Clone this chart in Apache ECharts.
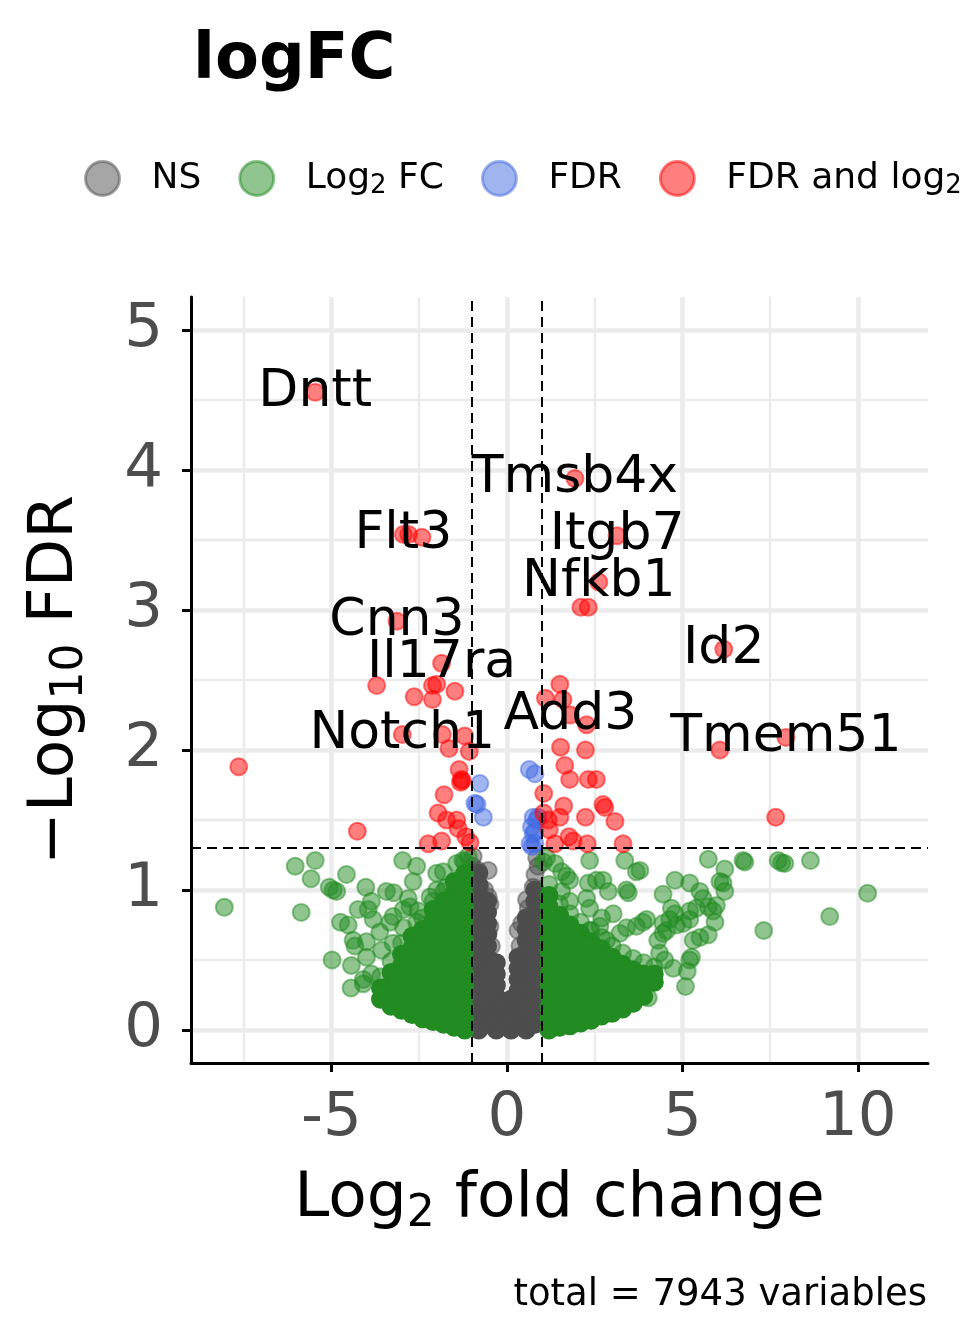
<!DOCTYPE html>
<html>
<head>
<meta charset="utf-8">
<script src="https://cdn.jsdelivr.net/npm/echarts@6/dist/echarts.min.js"></script>
<style>
html,body{margin:0;padding:0;background:#fff;}
#chart{width:960px;height:1344px;}
</style>
</head>
<body>
<div id="chart"></div>
<script>
// ---------- data ----------
const xTicks = [-5, 0, 5, 10];
const yTicks = [0, 1, 2, 3, 4, 5];
const xMinorGrid = [-7.5, -2.5, 2.5, 7.5];
const yMinorGrid = [0.5, 1.5, 2.5, 3.5, 4.5];
const fcCutoff = 1;
const fdrCutoff = 1.30103; // -log10(0.05)

// NS (grey) points: dense (heavily overlapping) columns [x, [y...]] and scattered points
const nsDenseCols = [
  [-0.8, [0,0.08,0.16,0.24,0.32,0.4,0.48,0.56,0.64,0.72,0.8,0.88,0.96,1.04,1.12]],
  [-0.55,[0.04,0.12,0.2,0.28,0.36,0.44,0.52,0.6,0.68,0.76,0.84,0.92]],
  [-0.3, [0,0.08,0.16,0.24,0.32,0.4,0.48]],
  [-0.08,[0.04,0.12,0.2]],
  [0.12, [0,0.08,0.16,0.22]],
  [0.32, [0.04,0.12,0.2,0.28,0.36,0.44,0.52]],
  [0.55, [0,0.08,0.16,0.24,0.32,0.4,0.48,0.56,0.64,0.72,0.8]],
  [0.8,  [0.04,0.12,0.2,0.28,0.36,0.44,0.52,0.6,0.68,0.76,0.84,0.92,1.0]]
];
const nsPoints = [
  [-0.96,1.24],[-0.98,1.17],[-0.82,1.14],[-0.53,1.14],[-0.77,1.02],[-0.63,1.0],[-0.53,0.95],
  [-0.48,0.90],[-0.58,0.83],[-0.48,0.74],[-0.53,0.69],[-0.44,0.60],
  [0.85,1.23],[0.89,1.17],[0.80,1.11],[0.75,1.02],[0.56,0.93],[0.61,0.87],[0.42,0.76],
  [0.32,0.71],[0.37,0.60]
];

// Log2 FC (green) points
const fcDenseLeftCols = [
  [-1.2,[0,0.08,0.16,0.24,0.32,0.4,0.48,0.56,0.64,0.72,0.8,0.88,0.96,1.04,1.12]],
  [-1.5,[0.02,0.1,0.18,0.26,0.34,0.42,0.5,0.58,0.66,0.74,0.82,0.9,0.98,1.06]],
  [-1.8,[0.04,0.12,0.2,0.28,0.36,0.44,0.52,0.6,0.68,0.76,0.84,0.92]],
  [-2.1,[0.06,0.14,0.22,0.3,0.38,0.46,0.54,0.62,0.7,0.78,0.86]],
  [-2.4,[0.08,0.16,0.24,0.32,0.4,0.48,0.56,0.64,0.72]],
  [-2.7,[0.11,0.19,0.27,0.35,0.43,0.51,0.59,0.67]],
  [-3.0,[0.14,0.22,0.3,0.38,0.46,0.54]],
  [-3.3,[0.17,0.25,0.33,0.41]],
  [-3.6,[0.22,0.3]]
];
const fcDenseRightCols = [
  [1.2,[0,0.08,0.16,0.24,0.32,0.4,0.48,0.56,0.64,0.72,0.8,0.88,0.96]],
  [1.5,[0.02,0.1,0.18,0.26,0.34,0.42,0.5,0.58,0.66,0.74,0.82]],
  [1.8,[0.03,0.11,0.19,0.27,0.35,0.43,0.51,0.59,0.67,0.75]],
  [2.1,[0.05,0.13,0.21,0.29,0.37,0.45,0.53,0.61,0.69]],
  [2.4,[0.07,0.15,0.23,0.31,0.39,0.47,0.55,0.63]],
  [2.7,[0.1,0.18,0.26,0.34,0.42,0.5,0.58]],
  [3.0,[0.12,0.2,0.28,0.36,0.44,0.52]],
  [3.3,[0.15,0.23,0.31,0.39,0.47]],
  [3.6,[0.19,0.27,0.35,0.43]],
  [3.9,[0.24,0.32,0.4]],
  [4.2,[0.34,0.4]]
];
const fcPointsLeft = [
  [-8.05,0.876],[-6.03,1.17],[-5.46,1.21],[-5.58,1.08],[-5.86,0.84],[-5.06,1.02],[-4.85,0.99],
  [-4.95,1.0],[-4.57,1.11],[-4.02,1.02],[-4.24,0.86],[-4.74,0.77],[-4.52,0.75],[-4.38,0.64],
  [-4.33,0.60],[-4.00,0.63],[-4.98,0.50],[-4.43,0.46],[-4.44,0.30],[-4.09,0.33],[-3.86,0.92],
  [-3.95,0.86],[-3.81,0.79],[-3.43,0.99],[-3.22,0.98],[-2.97,1.21],[-2.57,1.17],[-2.67,1.06],
  [-2.81,0.94],[-3.62,0.70],[-3.33,0.77],[-3.24,0.81],[-2.95,0.86],[-2.76,0.88],[-2.53,0.85],
  [-2.57,0.77],[-3.57,0.57],[-3.24,0.62],[-2.95,0.73],[-2.00,1.12],[-1.81,1.13],[-1.43,1.19],
  [-1.25,1.21],[-1.10,1.24],[-2.19,0.95],[-2.00,1.00],[-1.72,1.02],[-3.86,0.40],[-4.09,0.36],
  [-4.0,0.52],[-3.6,0.38],[-3.3,0.49],[-2.4,0.8],[-2.1,0.92],[-1.8,0.99],[-1.2,1.2],[-3.0,0.62]
];
const fcPointsRight = [
  [5.74,1.22],[6.21,1.15],[6.73,1.21],[6.78,1.20],[7.73,1.21],[7.92,1.19],[7.83,1.195],
  [8.65,1.21],[10.28,0.976],[9.20,0.81],[7.32,0.71],[4.79,1.07],[5.21,1.05],[4.45,0.97],
  [4.69,0.87],[5.50,0.99],[5.59,0.94],[6.07,1.06],[6.16,1.05],[6.21,0.99],[5.97,0.89],
  [5.88,0.85],[5.93,0.77],[5.74,0.68],[5.50,0.66],[5.31,0.64],[5.21,0.79],[5.02,0.76],
  [4.83,0.75],[5.26,0.52],[5.21,0.50],[4.74,0.44],[5.14,0.42],[5.09,0.31],[4.03,0.23],
  [4.45,0.69],[4.55,0.71],[4.30,0.64],[4.64,0.79],[4.45,0.76],[4.79,0.83],[5.21,0.85],
  [5.40,0.87],[5.74,0.88],[3.98,0.79],[3.88,0.77],[3.69,0.74],[3.41,0.73],[3.22,0.69],
  [2.84,0.64],[2.65,0.74],[2.36,0.71],[3.03,0.83],[2.70,0.80],[2.36,1.21],[3.36,1.21],
  [3.69,1.13],[3.41,1.00],[3.46,0.98],[2.32,1.05],[2.55,1.07],[2.74,1.07],[2.89,0.99],
  [2.36,0.87],[2.27,0.94],[1.79,1.07],[1.56,0.99],[1.79,0.92],[1.37,1.19],[1.56,1.13],
  [1.70,1.10],[1.13,1.23],[1.04,1.20],[3.79,1.14],[4.35,0.55],[4.5,0.5],
  [1.2,1.04],[1.5,0.9],[1.8,0.83],[2.1,0.77],[2.4,0.71],[2.7,0.66],[3.0,0.6],[3.3,0.55],
  [3.6,0.51],[3.9,0.48],[4.2,0.45]
];

// FDR (blue) points
const fdrPoints = [
  [0.64,1.86],[0.80,1.83],[-0.77,1.76],[-0.91,1.62],[-0.85,1.61],[-0.67,1.52],[0.75,1.52],
  [0.89,1.52],[0.75,1.40],[0.80,1.42],[0.80,1.33],[0.66,1.33],[0.72,1.31],[0.85,1.50],[0.70,1.45]
];

// FDR and log2 FC (red) points
const bothPoints = [
  [-5.46,4.555],[-2.95,3.54],[-2.8,3.54],[-2.42,3.52],[1.94,3.94],[3.14,3.53],[2.62,3.20],
  [2.11,3.02],[2.32,3.02],[6.18,2.72],[1.51,2.47],[1.10,2.37],[1.60,2.36],[1.81,2.25],
  [2.27,2.18],[1.53,2.02],[2.24,2.00],[1.65,1.89],[1.79,1.79],[2.32,1.79],[2.55,1.79],
  [1.05,1.69],[1.62,1.60],[2.24,1.52],[2.74,1.61],[2.79,1.59],[3.08,1.49],[1.51,1.52],
  [1.18,1.50],[1.21,1.43],[1.05,1.55],[1.77,1.38],[1.89,1.35],[1.37,1.33],[2.29,1.33],
  [3.31,1.33],[6.07,2.00],[7.95,2.09],[7.66,1.52],
  [-3.13,2.92],[-1.86,2.62],[-3.71,2.46],[-2.12,2.46],[-2.00,2.47],[-2.64,2.38],[-2.12,2.36],
  [-1.48,2.42],[-2.98,2.11],[-1.84,2.11],[-1.20,2.10],[-1.65,2.01],[-1.07,1.99],[-7.64,1.88],
  [-1.36,1.86],[-1.30,1.79],[-1.27,1.78],[-1.32,1.77],[-1.79,1.68],[-1.96,1.55],[-1.72,1.50],
  [-1.43,1.50],[-1.39,1.44],[-4.26,1.42],[-1.17,1.38],[-2.24,1.33],[-1.86,1.35],[-1.05,1.34]
];

// labelled genes [name, log2FC, -log10 FDR]
const labelGenes = [
  ['Dntt',-5.46,4.555],['Tmsb4x',1.94,3.94],['Flt3',-2.95,3.54],['Itgb7',3.14,3.53],
  ['Nfkb1',2.62,3.20],['Cnn3',-3.13,2.92],['Il17ra',-1.86,2.62],['Id2',6.18,2.72],
  ['Add3',1.81,2.25],['Notch1',-2.98,2.11],['Tmem51',7.95,2.09]
];

const totalText = 'total = 7943 variables';

// ---------- build ----------
function flattenCols(cols){ const out=[]; cols.forEach(c=>c[1].forEach(y=>out.push([c[0],y]))); return out; }
const nsCore = flattenCols(nsDenseCols);
const fcCore = flattenCols(fcDenseLeftCols).concat(flattenCols(fcDenseRightCols));
const fcData = fcPointsLeft.concat(fcPointsRight);

const FONT = 'DejaVu Sans';
const SYM = 17;
function pointSeries(name, data, rgb, alpha, z){
  return {
    name, type:'scatter', data, symbol:'circle', symbolSize:SYM, z,
    itemStyle:{color:'rgba('+rgb+','+alpha+')', borderColor:'rgba('+rgb+','+alpha+')', borderWidth:2, opacity:1},
    emphasis:{disabled:true}, silent:true
  };
}
// heavily overplotted cores: thousands of overlapping points read as a solid mass
function coreSeries(name, data, rgb, z){
  return {
    name, type:'scatter', data, symbol:'circle', symbolSize:19, z,
    itemStyle:{color:'rgb('+rgb+')', borderWidth:0, opacity:1},
    emphasis:{disabled:true}, silent:true
  };
}

const legendNames = {
  'NS':'{sp|}{a|NS}',
  'Log2 FC':'{sp|}{a|Log}{s|2}{a| FC}',
  'FDR':'{sp|}{a|FDR}',
  'FDR and log2 FC':'{sp|}{a|FDR and log}{s|2}{a| FC}'
};

const chart = echarts.init(document.getElementById('chart'), null, {renderer:'canvas'});
const option = {
  animation:false,
  backgroundColor:'#ffffff',
  textStyle:{fontFamily:FONT},
  title:{
    text:'logFC', left:188, top:24,
    textStyle:{fontFamily:FONT, fontSize:64, fontWeight:'bold', color:'#000'}
  },
  legend:{
    data:['NS','Log2 FC','FDR','FDR and log2 FC'],
    left:84, top:160, padding:0, width:3000,
    itemWidth:34, itemHeight:34, itemGap:37, icon:'circle',
    itemStyle:{borderWidth:3, opacity:1},
    formatter:n=>legendNames[n],
    textStyle:{fontFamily:FONT, fontSize:36, color:'#000',
      rich:{
        sp:{width:27},
        a:{fontFamily:FONT, fontSize:36, color:'#000'},
        s:{fontFamily:FONT, fontSize:26, color:'#000', padding:[16,0,0,0]}
      }}
  },
  grid:{left:191, right:32, top:297, bottom:281, containLabel:false},
  xAxis:{
    type:'value', min:-9, max:12,
    name:'{a|Log}{s|2}{a| fold change}', nameLocation:'middle', nameGap:100,
    nameTextStyle:{rich:{
      a:{fontFamily:FONT, fontSize:63, color:'#000'},
      s:{fontFamily:FONT, fontSize:44, color:'#000', padding:[30,0,0,0]}
    }},
    axisLine:{show:true, onZero:false, lineStyle:{color:'#000', width:3}},
    axisTick:{show:true, customValues:xTicks, length:9, lineStyle:{color:'#000', width:3}},
    axisLabel:{customValues:xTicks, margin:26, fontFamily:FONT, fontSize:61, color:'#4D4D4D'},
    splitLine:{show:false}
  },
  yAxis:{
    type:'value', min:-0.236, max:5.236,
    name:'{a|\u2212Log}{s|10}{a| FDR}', nameLocation:'middle', nameGap:98, nameRotate:90,
    nameTextStyle:{rich:{
      a:{fontFamily:FONT, fontSize:63, color:'#000'},
      s:{fontFamily:FONT, fontSize:44, color:'#000', padding:[30,0,0,0]}
    }},
    axisLine:{show:true, onZero:false, lineStyle:{color:'#000', width:3}},
    axisTick:{show:true, customValues:yTicks, length:9, lineStyle:{color:'#000', width:3}},
    axisLabel:{customValues:yTicks, margin:28, fontFamily:FONT, fontSize:61, color:'#4D4D4D'},
    splitLine:{show:false}
  },
  graphic:[{
    type:'text', right:33, top:1277,
    style:{text:totalText, font:'37px "DejaVu Sans"', fill:'#000'}
  }],
  series:[
    {
      name:'grid', type:'scatter', data:[], z:0, silent:true,
      markLine:{
        z:0, silent:true, symbol:['none','none'], label:{show:false}, animation:false,
        data:[].concat(
          yTicks.map(v=>({yAxis:v, lineStyle:{color:'#EBEBEB', width:4.5, type:'solid'}})),
          yMinorGrid.map(v=>({yAxis:v, lineStyle:{color:'#EBEBEB', width:2.3, type:'solid'}})),
          xTicks.map(v=>({xAxis:v, lineStyle:{color:'#EBEBEB', width:4.5, type:'solid'}})),
          xMinorGrid.map(v=>({xAxis:v, lineStyle:{color:'#EBEBEB', width:2.3, type:'solid'}}))
        )
      }
    },
    coreSeries('NS core', nsCore, '77,77,77', 2),
    pointSeries('NS', nsPoints, '77,77,77', 0.5, 2),
    coreSeries('Log2 FC core', fcCore, '34,139,34', 2),
    pointSeries('Log2 FC', fcData, '34,139,34', 0.5, 2),
    pointSeries('FDR', fdrPoints, '65,105,225', 0.5, 2),
    pointSeries('FDR and log2 FC', bothPoints, '255,0,0', 0.5, 2),
    {
      name:'cutoffs', type:'scatter', data:[], z:4, silent:true,
      markLine:{
        z:4, silent:true, symbol:['none','none'], label:{show:false}, animation:false,
        lineStyle:{color:'#000', width:2, type:[10,6]},
        data:[{xAxis:-fcCutoff},{xAxis:fcCutoff},{yAxis:fdrCutoff}]
      }
    },
    {
      name:'labels', type:'scatter', z:6, silent:true,
      data:labelGenes.map(g=>({value:[g[1],g[2]], name:g[0]})),
      symbolSize:1, itemStyle:{color:'rgba(0,0,0,0)'},
      label:{show:true, position:'inside', formatter:p=>p.name, opacity:1,
        fontFamily:FONT, fontSize:52, color:'#000000', textBorderWidth:0},
      labelLayout:{hideOverlap:false}
    }
  ]
};
chart.setOption(option);
</script>
</body>
</html>
